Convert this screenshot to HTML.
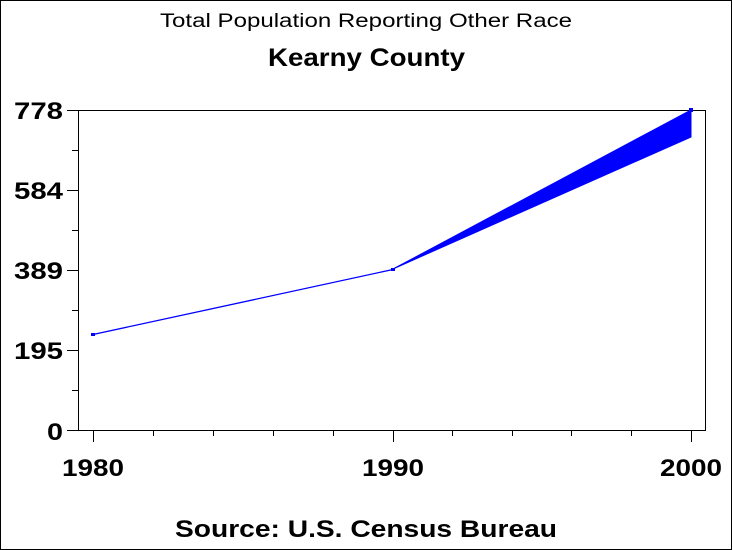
<!DOCTYPE html>
<html><head><style>body{margin:0;background:#fff}svg{display:block}text{font-family:"Liberation Sans",sans-serif}</style></head><body>
<svg width="733" height="550" xmlns="http://www.w3.org/2000/svg">
<rect x="0.5" y="0.5" width="731" height="549" fill="#fff" stroke="#000"/>
<text x="160" y="27" font-size="19" textLength="412" lengthAdjust="spacingAndGlyphs">Total Population Reporting Other Race</text>
<text x="268" y="66" font-size="25" font-weight="bold" textLength="197" lengthAdjust="spacingAndGlyphs">Kearny County</text>
<rect x="78.5" y="110.5" width="627" height="320" fill="none" stroke="#000"/>
<g stroke="#000">
<line x1="67" y1="110.5" x2="78" y2="110.5"/><line x1="72" y1="150.5" x2="78" y2="150.5"/>
<line x1="67" y1="190.5" x2="78" y2="190.5"/><line x1="72" y1="230.5" x2="78" y2="230.5"/>
<line x1="67" y1="270.5" x2="78" y2="270.5"/><line x1="72" y1="310.5" x2="78" y2="310.5"/>
<line x1="67" y1="350.5" x2="78" y2="350.5"/><line x1="72" y1="390.5" x2="78" y2="390.5"/>
<line x1="67" y1="430.5" x2="78" y2="430.5"/>
<line x1="93.5" y1="430" x2="93.5" y2="442"/><line x1="153.5" y1="430" x2="153.5" y2="436"/>
<line x1="213.5" y1="430" x2="213.5" y2="436"/><line x1="273.5" y1="430" x2="273.5" y2="436"/>
<line x1="333.5" y1="430" x2="333.5" y2="436"/><line x1="393.5" y1="430" x2="393.5" y2="442"/>
<line x1="452.5" y1="430" x2="452.5" y2="436"/><line x1="512.5" y1="430" x2="512.5" y2="436"/>
<line x1="571.5" y1="430" x2="571.5" y2="436"/><line x1="631.5" y1="430" x2="631.5" y2="436"/>
<line x1="691.5" y1="430" x2="691.5" y2="442"/>
</g>
<g font-size="24" font-weight="bold">
<text x="14" y="119" textLength="49" lengthAdjust="spacingAndGlyphs">778</text>
<text x="14" y="199" textLength="49" lengthAdjust="spacingAndGlyphs">584</text>
<text x="14" y="279" textLength="49" lengthAdjust="spacingAndGlyphs">389</text>
<text x="14" y="359" textLength="49" lengthAdjust="spacingAndGlyphs">195</text>
<text x="47" y="440" textLength="16" lengthAdjust="spacingAndGlyphs">0</text>
<text x="62" y="476" textLength="62" lengthAdjust="spacingAndGlyphs">1980</text>
<text x="362" y="476" textLength="62" lengthAdjust="spacingAndGlyphs">1990</text>
<text x="660" y="476" textLength="62" lengthAdjust="spacingAndGlyphs">2000</text>
</g>
<polyline points="93,334.5 393,269.5" fill="none" stroke="#00f" stroke-width="1.3"/>
<polygon points="393,269 691,110 691,137" fill="#00f" stroke="#00f"/>
<rect x="91" y="333" width="4" height="3" fill="#00f"/>
<rect x="391" y="268" width="4" height="3" fill="#00f"/>
<rect x="689" y="108" width="4" height="4" fill="#00f"/>
<text x="175" y="537" font-size="24" font-weight="bold" textLength="382" lengthAdjust="spacingAndGlyphs">Source: U.S. Census Bureau</text>
</svg>
</body></html>
